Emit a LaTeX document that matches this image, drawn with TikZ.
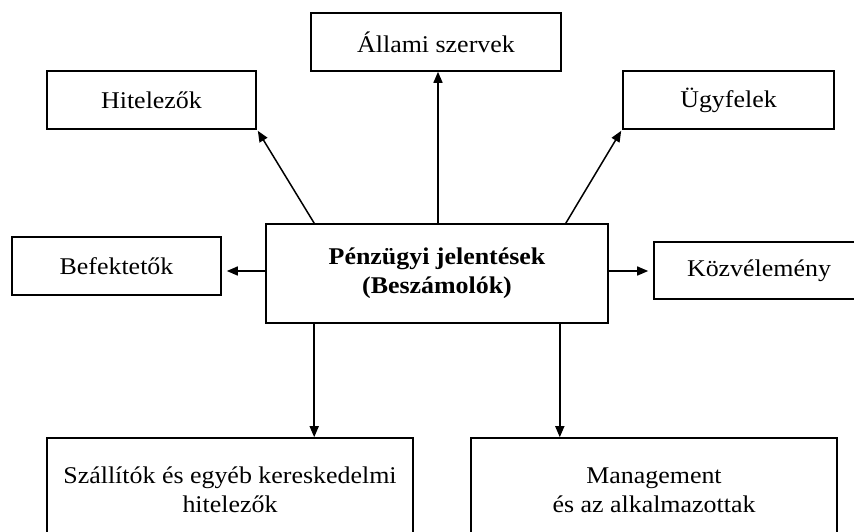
\documentclass[tikz,border=0pt]{standalone}
\usepackage{fontspec}
\setmainfont{Liberation Serif}[FakeStretch=1.08]
\usetikzlibrary{arrows.meta,calc}
\tikzset{
  box/.style={draw, line width=1.6pt, inner sep=0pt, align=center,
    font=\fontsize{24}{29}\selectfont},
  arr/.style={line width=1.5pt, -{Triangle[length=11pt,width=9pt]}}
}
\begin{document}
\begin{tikzpicture}[x=1pt,y=-1pt]
\useasboundingbox (0,0) rectangle (854,531);
\clip (0,0) rectangle (854,531);
\fill[white] (0,0) rectangle (854,531);
\node[box, minimum width=250pt, minimum height=58pt] (allami) at (436,42) {Állami szervek};
\node[box, minimum width=209pt, minimum height=58pt] (hitel) at (151.5,100) {Hitelezők};
\node[box, minimum width=211pt, minimum height=58pt] (ugyf) at (728.5,100) {Ügyfelek};
\node[box, minimum width=209pt, minimum height=58pt] (befek) at (116.5,266) {Befektetők};
\node[box, minimum width=342pt, minimum height=99pt] (center) at (437,273.5) {\bfseries Pénzügyi jelentések\\\bfseries (Beszámolók)};
\node[box, minimum width=210pt, minimum height=57pt] (kozv) at (759,270.5) {Közvélemény};
\node[box, minimum width=366pt, minimum height=104pt] (szall) at (230,490) {Szállítók és egyéb kereskedelmi\\hitelezők};
\node[box, minimum width=366pt, minimum height=104pt] (mgmt) at (654,490) {Management\\és az alkalmazottak};
\draw[arr] ([xshift=1pt]center.north) -- ([xshift=1pt]center.north |- allami.south);
\draw[arr] ([xshift=49pt]center.north west) -- ([shift={(1pt,-1pt)}]hitel.south east);
\draw[arr] ([xshift=-43pt]center.north east) -- ([shift={(-1pt,-1pt)}]ugyf.south west);
\draw[arr, shorten >=5pt] ([yshift=2.5pt]center.west) -- ([yshift=2.5pt]center.west -| befek.east);
\draw[arr, shorten >=5pt] ([yshift=2.5pt]center.east) -- ([yshift=2.5pt]center.east -| kozv.west);
\draw[arr] ([xshift=49pt]center.south west) -- ([xshift=49pt]center.south west |- szall.north);
\draw[arr] ([xshift=-49pt]center.south east) -- ([xshift=-49pt]center.south east |- mgmt.north);
\end{tikzpicture}
\end{document}
